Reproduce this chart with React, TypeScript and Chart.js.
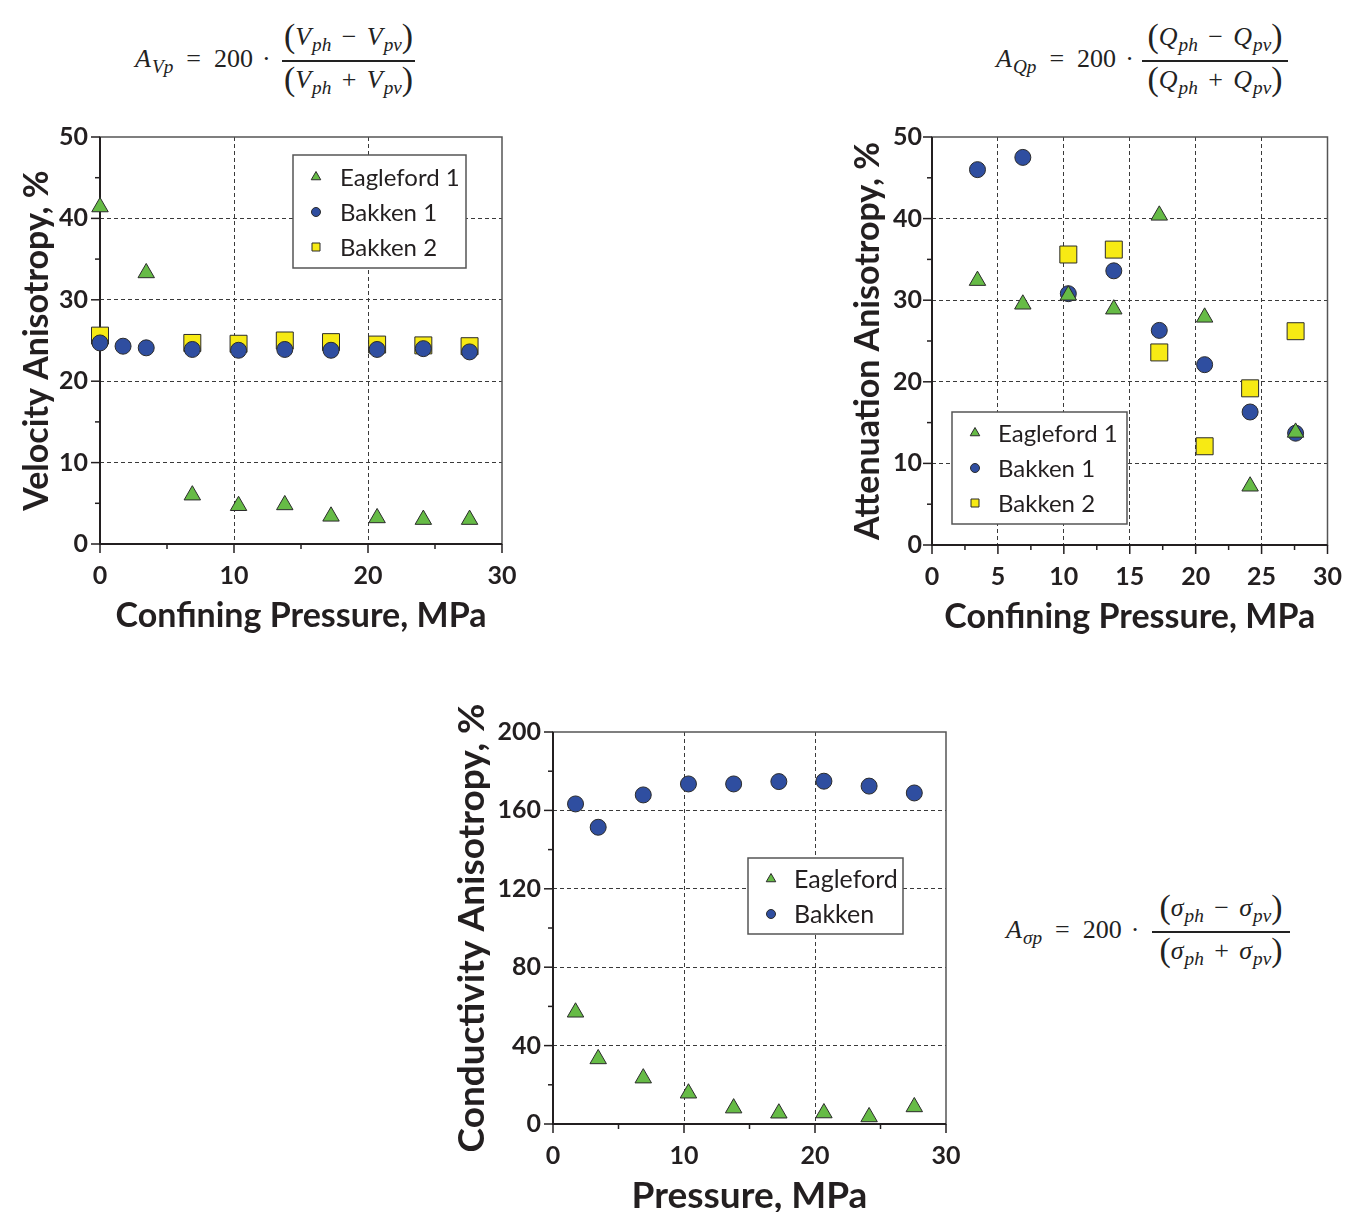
import React, { useEffect, useRef } from 'react';
import { Chart, registerables } from 'chart.js';

Chart.register(...registerables);
Chart.defaults.font.family = 'Lato';

// ---------------- data ----------------
// Velocity anisotropy (top-left)
const velEaglefordP = [0, 3.45, 6.89, 10.34, 13.79, 17.24, 20.68, 24.13, 27.58];
const velEagleford = [41.4, 33.3, 6.0, 4.7, 4.8, 3.4, 3.2, 3.0, 3.0];
const velBakken1P = [0, 1.72, 3.45, 6.89, 10.34, 13.79, 17.24, 20.68, 24.13, 27.58];
const velBakken1 = [24.7, 24.3, 24.1, 23.9, 23.8, 23.9, 23.8, 23.9, 24.0, 23.6];
const velBakken2P = [0, 6.89, 10.34, 13.79, 17.24, 20.68, 24.13, 27.58];
const velBakken2 = [25.6, 24.7, 24.6, 25.0, 24.8, 24.5, 24.4, 24.3];

// Attenuation anisotropy (top-right)
const attEaglefordP = [3.45, 6.89, 10.34, 13.79, 17.24, 20.68, 24.13, 27.58];
const attEagleford = [32.4, 29.5, 30.6, 28.9, 40.4, 27.9, 7.2, 13.8];
const attBakken1P = [3.45, 6.89, 10.34, 13.79, 17.24, 20.68, 24.13, 27.58];
const attBakken1 = [46.0, 47.5, 30.8, 33.6, 26.3, 22.1, 16.3, 13.7];
const attBakken2P = [10.34, 13.79, 17.24, 20.68, 24.13, 27.58];
const attBakken2 = [35.6, 36.2, 23.6, 12.1, 19.2, 26.2];

// Conductivity anisotropy (bottom)
const conEaglefordP = [1.72, 3.45, 6.89, 10.34, 13.79, 17.24, 20.68, 24.13, 27.58];
const conEagleford = [57.0, 33.2, 23.4, 15.7, 8.1, 5.5, 5.6, 3.6, 8.7];
const conBakkenP = [1.72, 3.45, 6.89, 10.34, 13.79, 17.24, 20.68, 24.13, 27.58];
const conBakken = [163.3, 151.4, 167.9, 173.5, 173.5, 174.7, 174.9, 172.4, 168.9];

// labels
const velLabels = ['Eagleford 1', 'Bakken 1', 'Bakken 2'];
const conLabels = ['Eagleford', 'Bakken'];

// ---------------- styling ----------------
const GREEN = '#66bb46';
const BLUE = '#2f4ea0';
const YELLOW = '#f7ea14';
const EDGE = '#2b2b2b';
const INK = '#231f20';
const GRID = '#3a3a3a';

type Kind = 'tri' | 'circ' | 'sq';
const zip = (xs: number[], ys: number[]) => xs.map((x, i) => ({ x, y: ys[i] }));

function series(label: string, xs: number[], ys: number[], kind: Kind) {
  const st = {
    tri: { pointStyle: 'triangle', pointRadius: 9.5, backgroundColor: GREEN },
    circ: { pointStyle: 'circle', pointRadius: 8, backgroundColor: BLUE },
    sq: { pointStyle: 'rect', pointRadius: 12, backgroundColor: YELLOW },
  }[kind];
  return {
    label,
    data: zip(xs, ys),
    ...st,
    pointHoverRadius: st.pointRadius,
    borderColor: EDGE,
    borderWidth: 1,
    showLine: false,
    clip: false,
    kind,
  } as any;
}

function drawMarker(ctx: CanvasRenderingContext2D, kind: Kind, x: number, y: number, fill: string) {
  ctx.save();
  ctx.fillStyle = fill;
  ctx.strokeStyle = EDGE;
  ctx.lineWidth = 1;
  ctx.beginPath();
  if (kind === 'tri') {
    const r = 5.5;
    ctx.moveTo(x, y - r);
    ctx.lineTo(x + 0.866 * r, y + r / 2);
    ctx.lineTo(x - 0.866 * r, y + r / 2);
    ctx.closePath();
  } else if (kind === 'circ') {
    ctx.arc(x, y, 4.5, 0, Math.PI * 2);
  } else {
    ctx.rect(x - 4, y - 4, 8, 8);
  }
  ctx.fill();
  ctx.stroke();
  ctx.restore();
}

const isMult = (v: number, step: number) => Math.abs(v / step - Math.round(v / step)) < 1e-6;

const frameTicks = {
  id: 'frameTicks',
  beforeDatasetsDraw(chart: any, _a: any, o: any) {
    const { ctx, chartArea: a, scales } = chart;
    ctx.save();
    ctx.strokeStyle = '#555';
    ctx.lineWidth = 1.5;
    ctx.strokeRect(a.left, a.top, a.right - a.left, a.bottom - a.top);
    ctx.strokeStyle = INK;
    ctx.lineWidth = 2;
    ctx.beginPath();
    ctx.moveTo(a.left, a.top);
    ctx.lineTo(a.left, a.bottom);
    ctx.lineTo(a.right, a.bottom);
    ctx.stroke();
    ctx.lineWidth = 1.5;
    const xs = scales.x;
    const ys = scales.y;
    for (let v = xs.min; v <= xs.max + 1e-9; v += o.xMinor) {
      const px = xs.getPixelForValue(v);
      const len = isMult(v, o.xMajor) ? 9 : 5;
      ctx.beginPath();
      ctx.moveTo(px, a.bottom);
      ctx.lineTo(px, a.bottom + len);
      ctx.stroke();
    }
    for (let v = ys.min; v <= ys.max + 1e-9; v += o.yMinor) {
      const py = ys.getPixelForValue(v);
      const len = isMult(v, o.yMajor) ? 9 : 5;
      ctx.beginPath();
      ctx.moveTo(a.left, py);
      ctx.lineTo(a.left - len, py);
      ctx.stroke();
    }
    ctx.restore();
  },
};

const boxLegend = {
  id: 'boxLegend',
  afterDatasetsDraw(chart: any, _a: any, o: any) {
    const { ctx, chartArea: a } = chart;
    const x0 = a.left + o.left;
    const y0 = a.top + o.top;
    ctx.save();
    ctx.fillStyle = '#ffffff';
    ctx.fillRect(x0, y0, o.width, o.height);
    ctx.strokeStyle = '#555';
    ctx.lineWidth = 1.5;
    ctx.strokeRect(x0, y0, o.width, o.height);
    ctx.font = `${o.fontSize}px Lato`;
    ctx.textBaseline = 'middle';
    ctx.textAlign = 'left';
    chart.data.datasets.forEach((ds: any, i: number) => {
      const cy = y0 + o.firstRow + i * o.rowGap;
      drawMarker(ctx, ds.kind, x0 + o.markerX, cy, ds.backgroundColor);
      ctx.fillStyle = INK;
      ctx.fillText(ds.label, x0 + o.textX, cy + 1);
    });
    ctx.restore();
  },
};

const TICK_FONT = { family: 'Lato', size: 25, weight: 'bold' as const };

const gridColor = (max: number) => (c: any) => {
  const v = c.tick ? c.tick.value : -1;
  return v === 0 || v === max ? 'rgba(0,0,0,0)' : GRID;
};

interface PanelSpec {
  datasets: any[];
  xMax: number; xStep: number; xMinor: number;
  yMax: number; yStep: number; yMinor: number;
  xTitle: string; yTitle: string; titleSize: number;
  yAxisWidth: number; xAxisHeight: number;
  pad: { top: number; right: number; left: number; bottom: number };
  yTitlePad: number; xTitlePad: number; yTickPad: number; xTickPad: number;
  legend: any;
}

function makeConfig(p: PanelSpec): any {
  const titleFont = { family: 'Lato', size: p.titleSize, weight: 'bold' as const, lineHeight: 1 };
  return {
    type: 'scatter',
    data: { datasets: p.datasets },
    plugins: [frameTicks, boxLegend],
    options: {
      responsive: false,
      animation: false,
      events: [],
      layout: { padding: p.pad },
      plugins: {
        legend: { display: false },
        tooltip: { enabled: false },
        frameTicks: { xMinor: p.xMinor, xMajor: p.xStep, yMinor: p.yMinor, yMajor: p.yStep },
        boxLegend: p.legend,
      },
      scales: {
        x: {
          type: 'linear',
          min: 0,
          max: p.xMax,
          ticks: { stepSize: p.xStep, font: TICK_FONT, color: INK, padding: p.xTickPad, maxRotation: 0, autoSkip: false },
          grid: { color: gridColor(p.xMax), lineWidth: 1, drawTicks: false },
          border: { display: false, dash: [4, 3] },
          title: { display: true, text: p.xTitle, font: titleFont, color: INK, padding: { top: 0, bottom: p.xTitlePad } },
          afterFit: (s: any) => { s.height = p.xAxisHeight; },
        },
        y: {
          type: 'linear',
          min: 0,
          max: p.yMax,
          ticks: { stepSize: p.yStep, font: TICK_FONT, color: INK, padding: p.yTickPad, autoSkip: false },
          grid: { color: gridColor(p.yMax), lineWidth: 1, drawTicks: false },
          border: { display: false, dash: [4, 3] },
          title: { display: true, text: p.yTitle, font: titleFont, color: INK, padding: { top: p.yTitlePad, bottom: 0 } },
          afterFit: (s: any) => { s.width = p.yAxisWidth; },
        },
      },
    },
  };
}

function Panel({ x, y, w, h, spec }: { x: number; y: number; w: number; h: number; spec: PanelSpec }) {
  const ref = useRef<HTMLCanvasElement>(null);
  useEffect(() => {
    const chart = new Chart(ref.current as HTMLCanvasElement, makeConfig(spec));
    return () => chart.destroy();
  }, []);
  return (
    <canvas
      ref={ref}
      width={w}
      height={h}
      style={{ position: 'absolute', left: x, top: y, width: w, height: h }}
    />
  );
}

function Formula({ x, barY, sym, fracX, fracW }: { x: number; barY: number; sym: string; fracX: number; fracW: number }) {
  const base: React.CSSProperties = {
    position: 'absolute',
    fontFamily: '"Liberation Serif", "DejaVu Serif", serif',
    fontSize: 26,
    lineHeight: '26px',
    color: '#222',
    whiteSpace: 'nowrap',
  };
  const sub: React.CSSProperties = { fontSize: '0.74em', fontStyle: 'italic', position: 'relative', top: '0.3em', lineHeight: 0, marginLeft: 1 };
  const par: React.CSSProperties = { fontSize: '1.3em', lineHeight: 0, position: 'relative', top: '0.06em' };
  const op: React.CSSProperties = { margin: '0 0.4em' };
  const term = (
    <>
      <i>{sym}</i>
      <span style={sub}>ph</span>
    </>
  );
  const term2 = (
    <>
      <i>{sym}</i>
      <span style={sub}>pv</span>
    </>
  );
  return (
    <>
      <div style={{ ...base, left: x, top: barY - 15 }}>
        <i>A</i>
        <span style={sub}>{sym}p</span>
        <span style={{ margin: '0 0.5em' }}>=</span>200<span style={{ margin: '0 0.35em' }}>·</span>
      </div>
      <div style={{ ...base, left: fracX, width: fracW, top: barY - 37, textAlign: 'center' }}>
        <span style={par}>(</span>{term}<span style={op}>−</span>{term2}<span style={par}>)</span>
      </div>
      <div style={{ position: 'absolute', left: fracX, top: barY - 1, width: fracW, height: 2, background: '#222' }} />
      <div style={{ ...base, left: fracX, width: fracW, top: barY + 6, textAlign: 'center' }}>
        <span style={par}>(</span>{term}<span style={op}>+</span>{term2}<span style={par}>)</span>
      </div>
    </>
  );
}

const velSpec: PanelSpec = {
  datasets: [
    series(velLabels[0], velEaglefordP, velEagleford, 'tri'),
    series(velLabels[1], velBakken1P, velBakken1, 'circ'),
    series(velLabels[2], velBakken2P, velBakken2, 'sq'),
  ],
  xMax: 30, xStep: 10, xMinor: 5,
  yMax: 50, yStep: 10, yMinor: 5,
  xTitle: 'Confining Pressure, MPa',
  yTitle: 'Velocity Anisotropy, %',
  titleSize: 34,
  yAxisWidth: 100, xAxisHeight: 96,
  pad: { top: 26, right: 38, left: 0, bottom: 0 },
  yTitlePad: 20, xTitlePad: 7, yTickPad: 12, xTickPad: 17,
  legend: { left: 193, top: 18, width: 173, height: 113, firstRow: 22, rowGap: 35, markerX: 23, textX: 47, fontSize: 24 },
};

const attSpec: PanelSpec = {
  datasets: [
    series(velLabels[0], attEaglefordP, attEagleford, 'tri'),
    series(velLabels[1], attBakken1P, attBakken1, 'circ'),
    series(velLabels[2], attBakken2P, attBakken2, 'sq'),
  ],
  xMax: 30, xStep: 5, xMinor: 2.5,
  yMax: 50, yStep: 10, yMinor: 5,
  xTitle: 'Confining Pressure, MPa',
  yTitle: 'Attenuation Anisotropy, %',
  titleSize: 34,
  yAxisWidth: 102, xAxisHeight: 95,
  pad: { top: 27, right: 21, left: 0, bottom: 0 },
  yTitlePad: 21, xTitlePad: 6, yTickPad: 10, xTickPad: 17,
  legend: { left: 20, top: 275, width: 175, height: 112, firstRow: 21, rowGap: 35, markerX: 23, textX: 46, fontSize: 24 },
};

const conSpec: PanelSpec = {
  datasets: [
    series(conLabels[0], conEaglefordP, conEagleford, 'tri'),
    series(conLabels[1], conBakkenP, conBakken, 'circ'),
  ],
  xMax: 30, xStep: 10, xMinor: 5,
  yMax: 200, yStep: 40, yMinor: 20,
  xTitle: 'Pressure, MPa',
  yTitle: 'Conductivity Anisotropy, %',
  titleSize: 37,
  yAxisWidth: 123, xAxisHeight: 88,
  pad: { top: 32, right: 44, left: 0, bottom: 0 },
  yTitlePad: 24, xTitlePad: -3, yTickPad: 12, xTickPad: 17,
  legend: { left: 195, top: 126, width: 155, height: 76, firstRow: 21, rowGap: 35, markerX: 23, textX: 46, fontSize: 25 },
};

export default function App() {
  return (
    <div style={{ position: 'absolute', left: 0, top: 0, width: 1359, height: 1212, background: '#fff', overflow: 'hidden' }}>
      <Formula x={135} barY={61} sym="V" fracX={282} fracW={133} />
      <Formula x={996} barY={61} sym="Q" fracX={1142} fracW={146} />
      <Formula x={1006} barY={932} sym="σ" fracX={1152} fracW={138} />
      <Panel x={0} y={110} w={540} h={530} spec={velSpec} />
      <Panel x={830} y={110} w={529} h={530} spec={attSpec} />
      <Panel x={430} y={700} w={560} h={512} spec={conSpec} />
    </div>
  );
}
